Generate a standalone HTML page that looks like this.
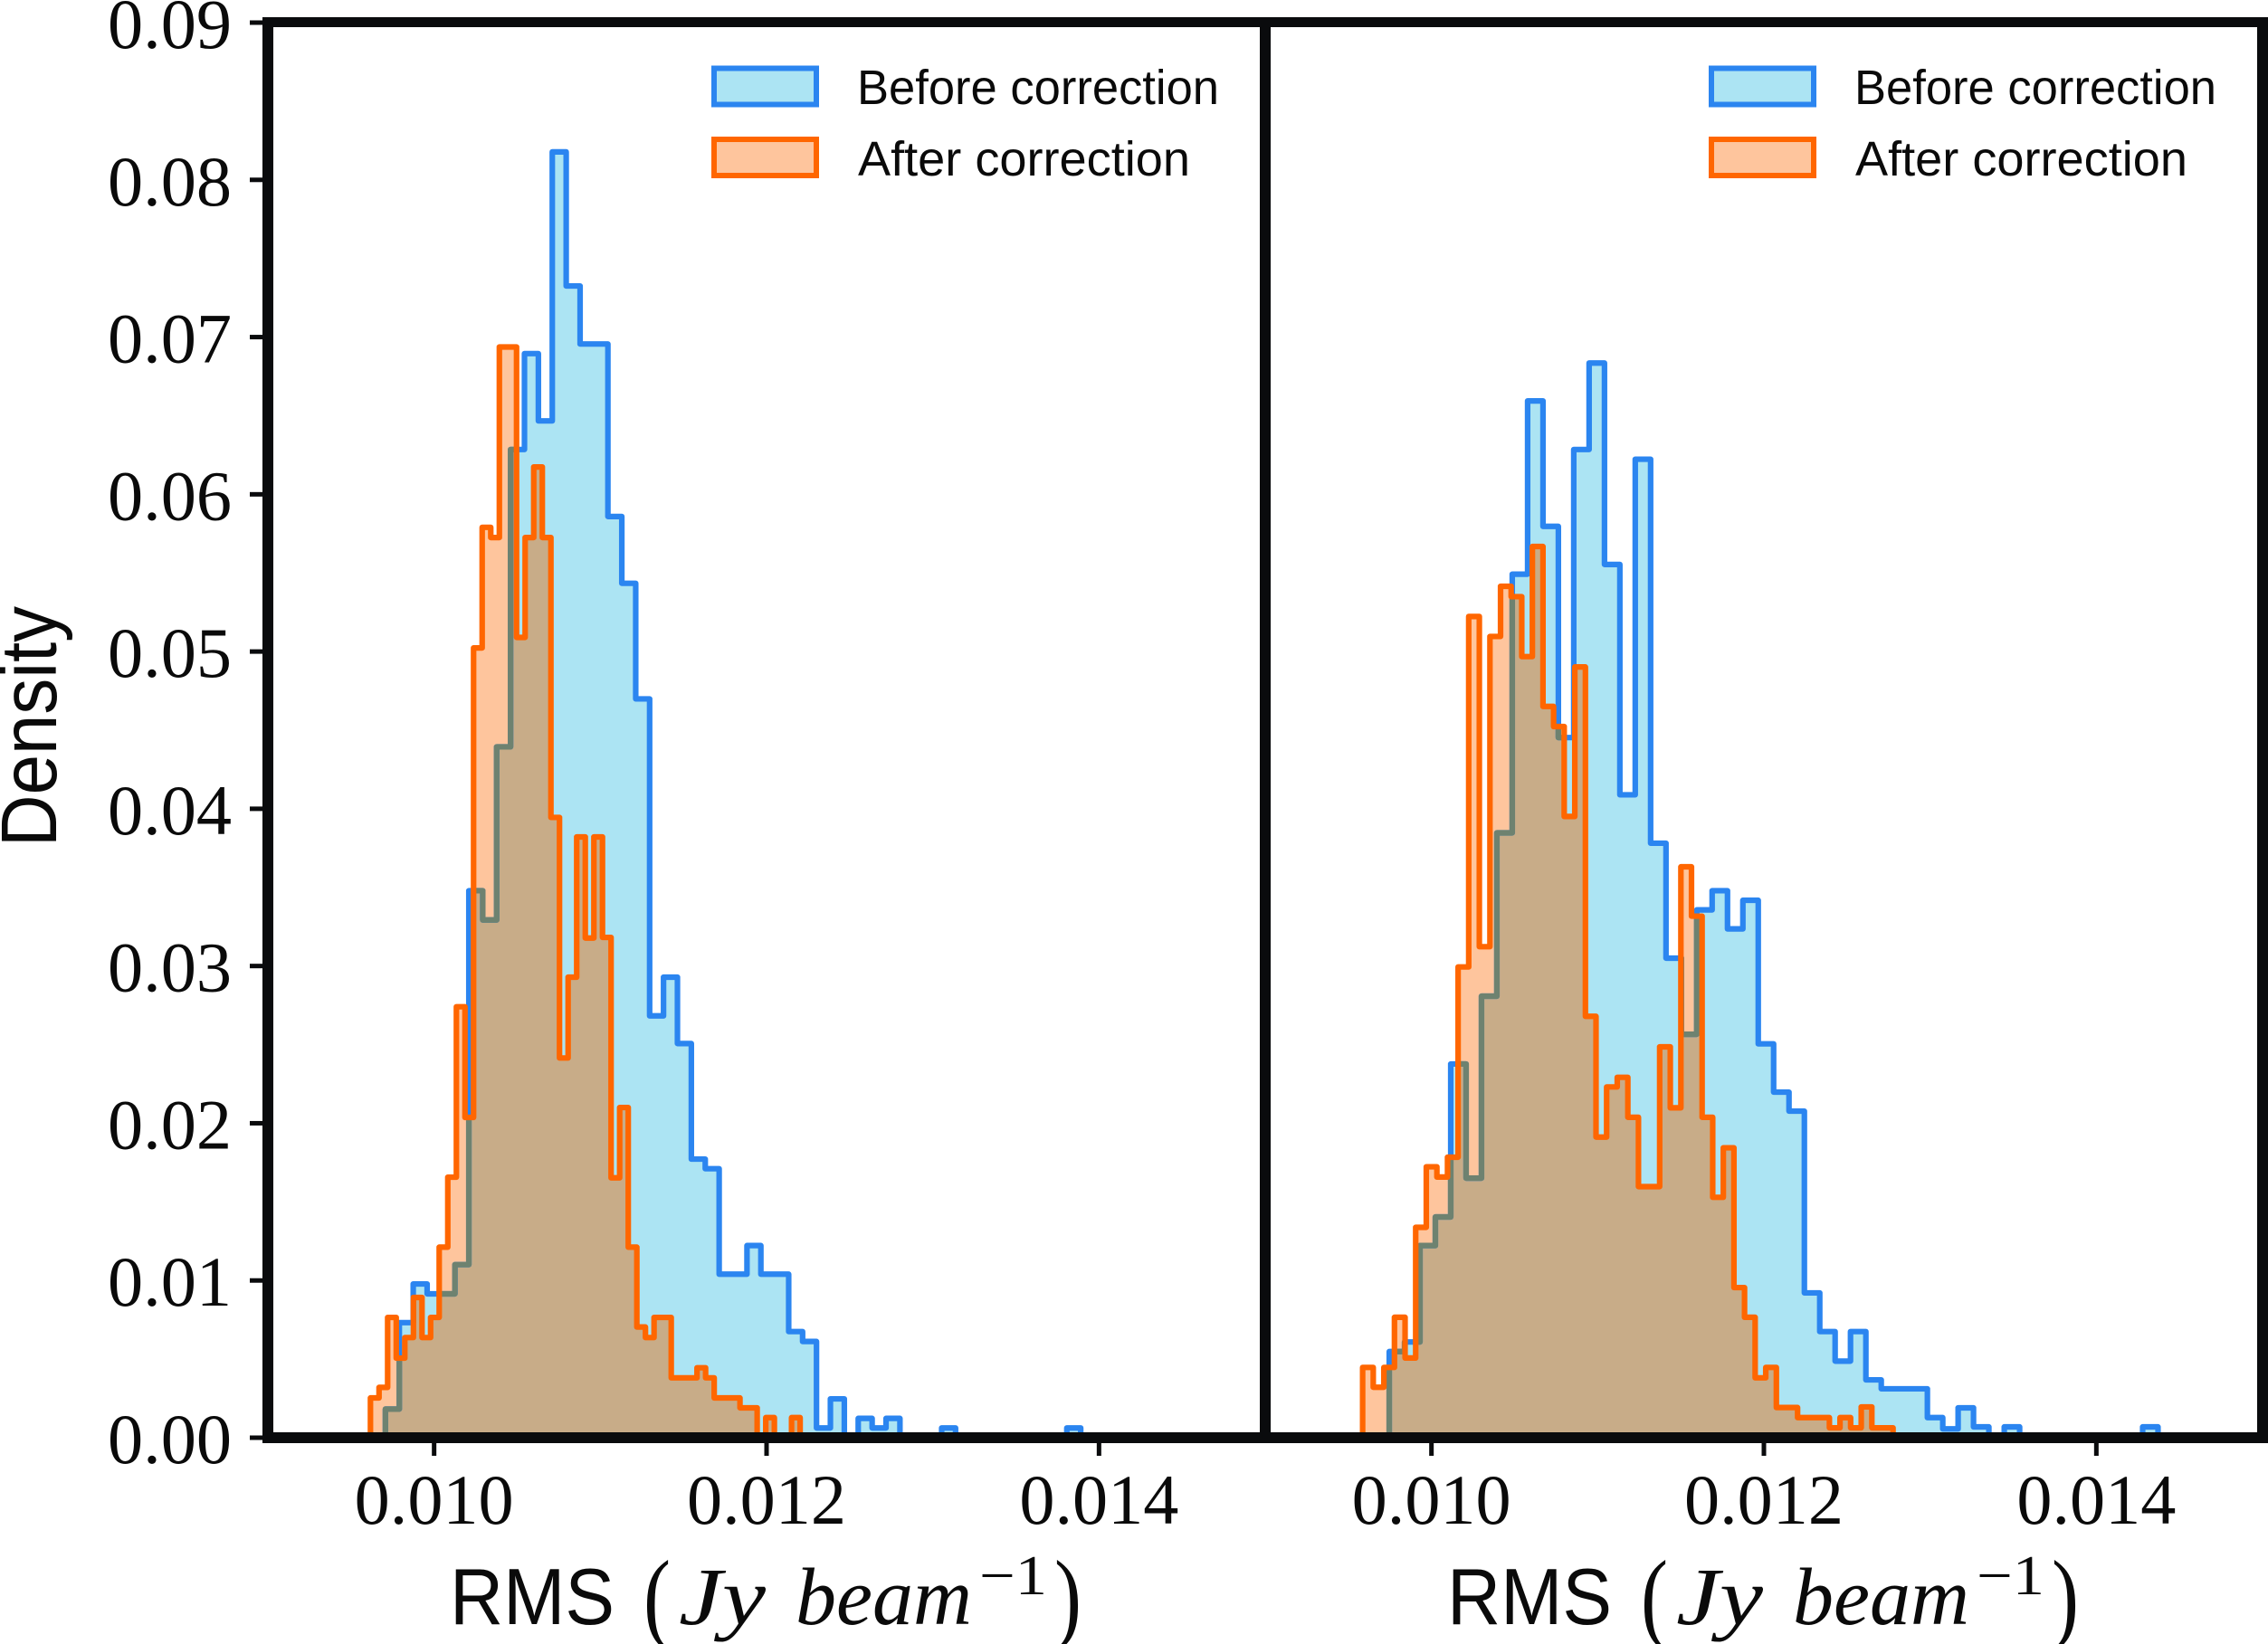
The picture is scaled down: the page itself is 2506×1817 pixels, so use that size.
<!DOCTYPE html>
<html lang="en">
<head>
<meta charset="utf-8">
<title>RMS density before and after correction</title>
<style>
html,body{margin:0;padding:0;background:#fff;}
svg{display:block;}
.serif{font-family:"Liberation Serif",serif;fill:#0a0a0a;}
.sans{font-family:"Liberation Sans",sans-serif;fill:#0a0a0a;}
</style>
</head>
<body>
<svg id="chart" xmlns="http://www.w3.org/2000/svg" width="2506" height="1817" viewBox="0 0 2506 1817">
  <rect x="0" y="0" width="2506" height="1817" fill="#ffffff"/>
  <g id="panels"></g>

  <text class="sans" font-size="87" transform="translate(62,936) rotate(-90)" textLength="266" lengthAdjust="spacingAndGlyphs">Density</text>

  <g>
    <rect x="789" y="75.5" width="113" height="40" fill="#ace4f3" stroke="#2b85f0" stroke-width="6"/>
    <text class="sans" x="947" y="115" font-size="54" textLength="400" lengthAdjust="spacingAndGlyphs">Before correction</text>
    <rect x="789" y="154" width="113" height="40" fill="#fec59d" stroke="#ff6600" stroke-width="6"/>
    <text class="sans" x="948" y="194" font-size="54" textLength="367" lengthAdjust="spacingAndGlyphs">After correction</text>
  </g>
  <g transform="translate(1102,0)">
    <rect x="789" y="75.5" width="113" height="40" fill="#ace4f3" stroke="#2b85f0" stroke-width="6"/>
    <text class="sans" x="947" y="115" font-size="54" textLength="400" lengthAdjust="spacingAndGlyphs">Before correction</text>
    <rect x="789" y="154" width="113" height="40" fill="#fec59d" stroke="#ff6600" stroke-width="6"/>
    <text class="sans" x="948" y="194" font-size="54" textLength="367" lengthAdjust="spacingAndGlyphs">After correction</text>
  </g>

  <g>
    <text class="sans" x="497" y="1795" font-size="88" textLength="182" lengthAdjust="spacingAndGlyphs">RMS</text>
    <text class="serif" x="711" y="1802" font-size="112" textLength="30" lengthAdjust="spacingAndGlyphs">(</text>
    <text class="serif" font-style="italic" x="750" y="1795" font-size="90" textLength="96" lengthAdjust="spacingAndGlyphs">Jy</text>
    <text class="serif" font-style="italic" x="879" y="1795" font-size="90" textLength="195" lengthAdjust="spacingAndGlyphs">beam</text>
    <text class="serif" x="1082" y="1762" font-size="62" textLength="75" lengthAdjust="spacingAndGlyphs">−1</text>
    <text class="serif" x="1165" y="1802" font-size="112" textLength="30" lengthAdjust="spacingAndGlyphs">)</text>
  </g>
  <g transform="translate(1102,0)">
    <text class="sans" x="497" y="1795" font-size="88" textLength="182" lengthAdjust="spacingAndGlyphs">RMS</text>
    <text class="serif" x="711" y="1802" font-size="112" textLength="30" lengthAdjust="spacingAndGlyphs">(</text>
    <text class="serif" font-style="italic" x="750" y="1795" font-size="90" textLength="96" lengthAdjust="spacingAndGlyphs">Jy</text>
    <text class="serif" font-style="italic" x="879" y="1795" font-size="90" textLength="195" lengthAdjust="spacingAndGlyphs">beam</text>
    <text class="serif" x="1082" y="1762" font-size="62" textLength="75" lengthAdjust="spacingAndGlyphs">−1</text>
    <text class="serif" x="1165" y="1802" font-size="112" textLength="30" lengthAdjust="spacingAndGlyphs">)</text>
  </g>
</svg>
<script>
// Chart data (density per bin; RMS bin ranges in Jy/beam)
const yTickValues = [0, 0.01, 0.02, 0.03, 0.04, 0.05, 0.06, 0.07, 0.08, 0.09];
const yTickLabels = ["0.00","0.01","0.02","0.03","0.04","0.05","0.06","0.07","0.08","0.09"];
const xTickValues = [0.010, 0.012, 0.014];
const xTickLabels = ["0.010","0.012","0.014"];

const leftBeforeRange = [0.009707, 0.01389];
const leftAfterRange = [0.009617, 0.012202];
const rightBeforeRange = [0.009746, 0.014371];
const rightAfterRange = [0.009586, 0.012777];

const leftBefore = [.00182,.00732,.00978,.00915,.00915,.01101,.03479,.03293,.04394,.06285,
  .06895,.06467,.08178,.07325,.06956,.06956,.05859,.05434,.04699,.02683,
  .02929,.02507,.01772,.01711,.0104,.0104,.01222,.0104,.0104,.00675,
  .00612,.00062,.00247,0,.00123,.00062,.00123,0,0,0,
  .00062,0,0,0,0,0,0,0,0,.00062];
const leftAfter = [.00253,.0032,.00765,.00506,.00637,.00892,.00637,.00765,.01212,.01657,
  .02741,.02037,.05023,.0579,.05725,.06937,.06937,.0509,.05725,.06174,
  .05725,.03945,.02415,.02929,.03821,.03178,.03821,.03182,.01653,.021,
  .01212,.00704,.00637,.00765,.00765,.00381,.00381,.00381,.00445,.00381,
  .00253,.00253,.00253,.0019,.0019,0,.00128,0,0,.00128];
const rightBefore = [.00548,.00609,.01222,.01404,.02377,.01651,.02808,.03847,.05492,.06594,
  .05796,.04453,.06285,.06835,.05554,.04089,.06223,.03781,.0305,.02566,
  .03357,.03479,.03236,.03418,.02505,.02198,.02077,.00921,.00675,.00487,
  .00675,.00368,.00311,.00311,.00311,.00128,.00056,.0019,.00069,0,
  .00069,0,0,0,0,0,0,0,0,.00069];
const rightAfter = [.00447,.00321,.00447,.00766,.00507,.01338,.01723,.01658,.01784,.02994,
  .05223,.03123,.05096,.05415,.05349,.04968,.05668,.04651,.04523,.03951,
  .04902,.0268,.01912,.02231,.02292,.02038,.01597,.01597,.02486,.02098,
  .03631,.03317,.02038,.01529,.01844,.00955,.00766,.00381,.00447,.00192,
  .00192,.00128,.00128,.00128,.00063,.00128,.00063,.00196,.00063,.00063];

const xDomain = [0.009, 0.015];
const yDomain = [0, 0.09];

const NS = "http://www.w3.org/2000/svg";
const root = document.getElementById("panels");

function mk(tag, attrs, parent) {
  const el = document.createElementNS(NS, tag);
  for (const k in attrs) el.setAttribute(k, attrs[k]);
  parent.appendChild(el);
  return el;
}

const plotTop = 25, plotBottom = 1589;
function yScale(v) {
  return plotBottom - (v - yDomain[0]) / (yDomain[1] - yDomain[0]) * (plotBottom - plotTop);
}
function makeXScale(left, right) {
  return function (v) {
    return left + (v - xDomain[0]) / (xDomain[1] - xDomain[0]) * (right - left);
  };
}
function stepPath(values, range, xs) {
  const n = values.length;
  const edge = i => xs(range[0] + (range[1] - range[0]) * i / n);
  let d = "M" + edge(0).toFixed(2) + " " + yScale(0).toFixed(2);
  for (let i = 0; i < n; i++) {
    const y = yScale(values[i]).toFixed(2);
    d += "L" + edge(i).toFixed(2) + " " + y + "L" + edge(i + 1).toFixed(2) + " " + y;
  }
  d += "L" + edge(n).toFixed(2) + " " + yScale(0).toFixed(2) + "Z";
  return d;
}

function drawPanel(id, left, right, before, beforeRange, after, afterRange) {
  const xs = makeXScale(left, right);
  const g = mk("g", {}, root);
  
  

  const dBefore = stepPath(before, beforeRange, xs);
  const dAfter = stepPath(after, afterRange, xs);

  const defs = mk("defs", {}, g);
  const cpB = mk("clipPath", { id: id + "-clip-before" }, defs);
  mk("path", { d: dBefore }, cpB);
  const cpA = mk("clipPath", { id: id + "-clip-after" }, defs);
  mk("path", { d: dAfter }, cpA);

  const fillBefore = mk("path", { d: dBefore, fill: "#ace4f3" }, g);
  
  

  const fillAfter = mk("path", { d: dAfter, fill: "#fec59d" }, g);
  
  

  const overlap = mk("path", { d: dAfter, fill: "#c8ac88", "clip-path": "url(#" + id + "-clip-before)" }, g);
  
  

  const lineBefore = mk("path", { d: dBefore, fill: "none", stroke: "#2b85f0", "stroke-width": 6.2, "stroke-linejoin": "round" }, g);
  
  

  const lineBeforeUnder = mk("path", { d: dBefore, fill: "none", stroke: "#6e8270", "stroke-width": 6.2, "stroke-linejoin": "round", "clip-path": "url(#" + id + "-clip-after)" }, g);
  
  

  const lineAfter = mk("path", { d: dAfter, fill: "none", stroke: "#ff6600", "stroke-width": 6.2, "stroke-linejoin": "round" }, g);
  
  

  xTickValues.forEach(function (v, i) {
    const x = xs(v);
    const tick = mk("rect", { x: x - 2.5, y: 1595, width: 5, height: 14, fill: "#0a0b0d" }, g);
    
    
    const label = mk("text", { x: x - 88, y: 1684, "font-size": 78, class: "serif", textLength: 176, lengthAdjust: "spacingAndGlyphs" }, g);
    
    
    label.textContent = xTickLabels[i];
  });
}

drawPanel("left", 296, 1398, leftBefore, leftBeforeRange, leftAfter, leftAfterRange);
drawPanel("right", 1398, 2500, rightBefore, rightBeforeRange, rightAfter, rightAfterRange);

yTickValues.forEach(function (v, i) {
  const y = yScale(v);
  const tick = mk("rect", { x: 276, y: y - 2.5, width: 14, height: 5, fill: "#0a0b0d" }, root);
  
  
  const label = mk("text", { x: 119, y: y + 28, "font-size": 78, class: "serif", textLength: 137, lengthAdjust: "spacingAndGlyphs" }, root);
  
  
  label.textContent = yTickLabels[i];
});

const spineTop = mk("rect", { x: 290, y: 19, width: 2216, height: 11, fill: "#0a0b0d" }, root);



const spineBottom = mk("rect", { x: 290, y: 1583, width: 2216, height: 12, fill: "#0a0b0d" }, root);



const spineLeft = mk("rect", { x: 290, y: 19, width: 12, height: 1576, fill: "#0a0b0d" }, root);



const spineMiddle = mk("rect", { x: 1392, y: 19, width: 12, height: 1576, fill: "#0a0b0d" }, root);



const spineRight = mk("rect", { x: 2494, y: 19, width: 12, height: 1576, fill: "#0a0b0d" }, root);


</script>
</body>
</html>
